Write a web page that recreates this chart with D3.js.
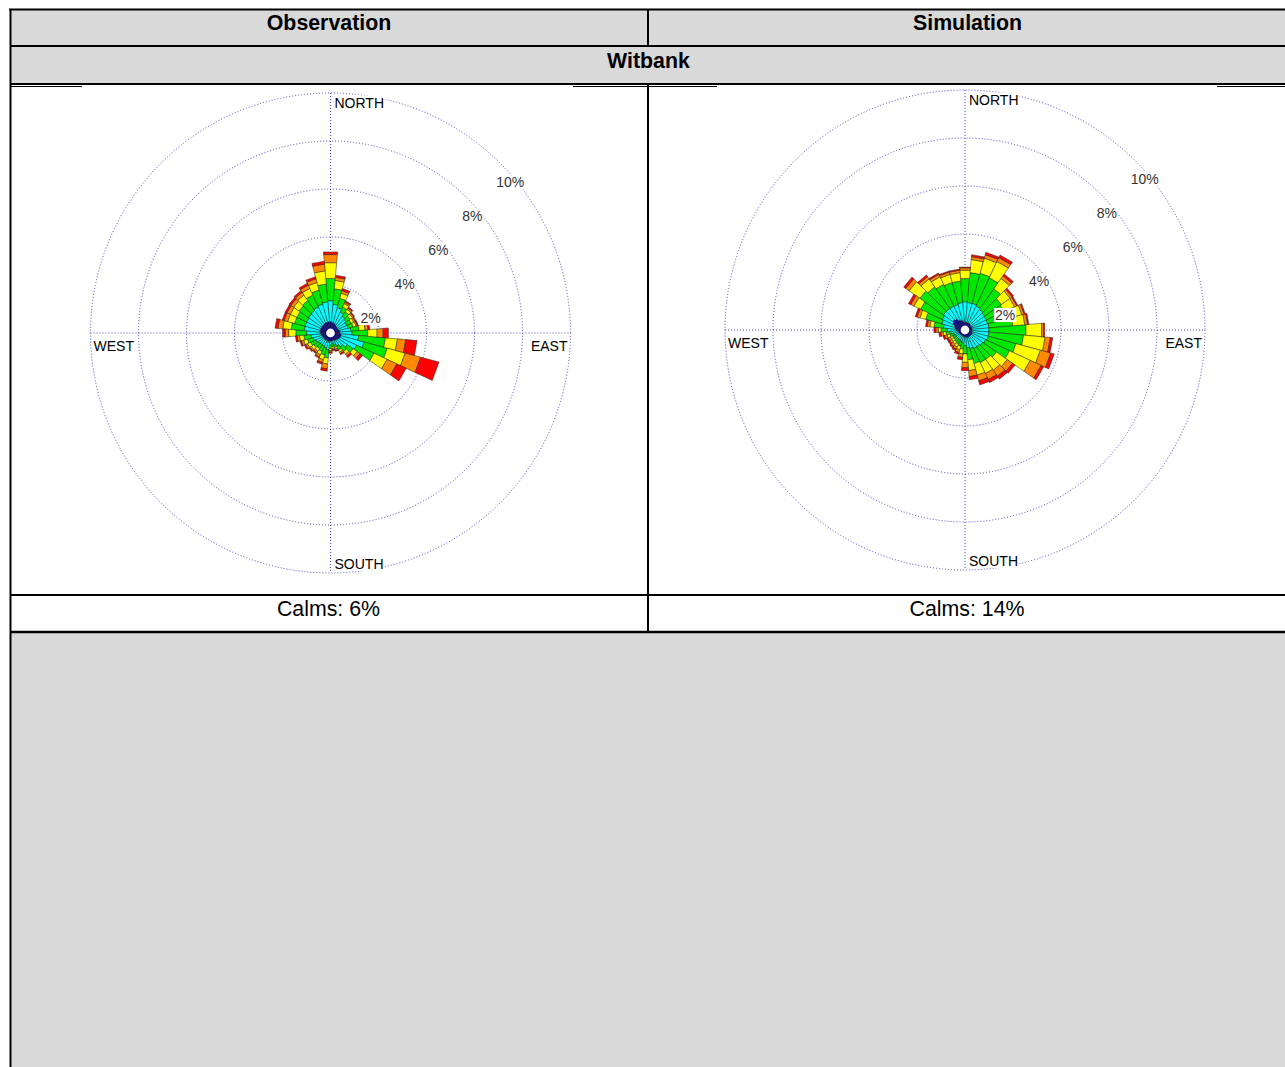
<!DOCTYPE html>
<html>
<head>
<meta charset="utf-8">
<script src="https://cdn.jsdelivr.net/npm/d3@7"></script>
<style>
  html, body { margin: 0; padding: 0; background: #fff; }
  svg { display: block; }
  text { font-family: "Liberation Sans", Arial, Helvetica, sans-serif; }
</style>
</head>
<body>
<svg id="chart" width="1285" height="1067"></svg>
<script>
// ---- wind direction sectors (degrees clockwise from north) ----
const directions = [0, 10, 20, 30, 40, 50, 60, 70, 80, 90, 100, 110, 120, 130, 140, 150, 160, 170,
                    180, 190, 200, 210, 220, 230, 240, 250, 260, 270, 280, 290, 300, 310, 320, 330, 340, 350];

// ---- frequency (%) per speed class, Observation ----
const obsClass1 = [.48,.45,.43,.40,.37,.35,.35,.37,.40,.40,.45,.45,.43,.40,.37,.35,.33,.33,
                   .35,.37,.37,.35,.35,.35,.37,.37,.40,.43,.45,.45,.45,.45,.45,.47,.47,.48];
const obsClass2 = [.87,.75,.67,.55,.48,.45,.40,.38,.45,.50,.73,1.00,.77,.45,.33,.25,.17,.12,
                   .15,.33,.28,.25,.25,.27,.31,.38,.42,.57,.65,.65,.65,.67,.70,.73,.78,.82];
const obsClass3 = [.93,.65,.40,.25,.23,.20,.20,.23,.35,.65,1.12,1.00,.80,.30,.25,.18,.12,.12,
                   .15,.35,.30,.25,.20,.23,.24,.25,.30,.45,.55,.45,.45,.48,.50,.55,.60,.75];
const obsClass4 = [.66,.35,.22,.15,.12,.12,.12,.12,.25,.40,.50,.77,.60,.20,.13,.10,.08,.08,
                   .09,.25,.20,.15,.12,.13,.14,.16,.18,.30,.35,.30,.30,.28,.28,.30,.33,.55];
const obsClass5 = [.34,.13,.11,.07,.07,.06,.07,.06,.12,.25,.35,.67,.45,.15,.09,.07,.06,.05,
                   .06,.20,.12,.10,.08,.07,.08,.10,.10,.15,.20,.15,.15,.14,.14,.15,.16,.28];
const obsClass6 = [.11,.09,.09,.06,.05,.04,.04,.04,.08,.22,.47,.79,.43,.13,.08,.05,.04,.05,
                   .05,.10,.08,.05,.05,.05,.06,.06,.07,.10,.12,.08,.08,.08,.08,.09,.09,.12];

// ---- frequency (%) per speed class, Simulation ----
const simClass1 = [.32,.32,.32,.32,.32,.30,.30,.30,.30,.30,.30,.32,.32,.32,.32,.32,.32,.32,
                   .30,.27,.27,.27,.27,.27,.27,.29,.32,.37,.42,.47,.57,.62,.57,.47,.42,.37];
const simClass2 = [.86,.83,.83,.78,.73,.70,.68,.68,.70,.70,.70,.68,.63,.58,.53,.53,.48,.43,
                   .35,.28,.23,.21,.18,.18,.18,.21,.28,.38,.48,.53,.48,.48,.53,.63,.68,.78];
const simClass3 = [.97,1.25,1.30,1.30,1.05,.85,.82,.92,1.00,1.55,1.45,1.20,1.10,.70,.65,.65,.65,.50,
                   .35,.25,.20,.17,.15,.13,.13,.15,.20,.25,.40,.70,1.00,1.20,1.10,1.00,.95,.90];
const simClass4 = [.35,.55,.65,.75,.52,.45,.48,.55,.50,.65,.90,1.05,.95,.55,.55,.50,.50,.45,
                   .35,.20,.15,.13,.12,.10,.10,.13,.12,.12,.17,.25,.30,.55,.40,.35,.35,.35];
const simClass5 = [.10,.12,.15,.18,.14,.10,.10,.10,.12,.08,.22,.45,.50,.27,.30,.28,.25,.25,
                   .23,.15,.12,.10,.11,.10,.10,.10,.10,.10,.11,.12,.15,.17,.12,.11,.10,.10];
const simClass6 = [.03,.08,.10,.12,.09,.07,.05,.05,.05,.05,.10,.15,.12,.13,.15,.14,.17,.13,
                   .12,.10,.08,.07,.07,.07,.07,.07,.08,.08,.07,.08,.10,.10,.08,.06,.05,.05];

// ---- speed class colours (slowest to fastest) ----
const classKeys = ["c1", "c2", "c3", "c4", "c5", "c6"];
const classColors = ["#0000a8", "#00ffff", "#00e800", "#ffff00", "#ff8a00", "#ff0000"];

// ---- radial grid ----
const ringValues = [2, 4, 6, 8, 10];
const ringLabels = ["2%", "4%", "6%", "8%", "10%"];
const compassLabels = ["NORTH", "EAST", "SOUTH", "WEST"];

// ---- table text ----
const columnTitles = ["Observation", "Simulation"];
const stationName = "Witbank";
const calmLabels = ["Calms: 6%", "Calms: 14%"];

const svg = d3.select("#chart");
const W = 1285, H = 1067;

// ---------------- table frame ----------------
const tbl = svg.append("g");
const xL = 10, xMid = 648, xR = 1290;
const yTop = 9, yHead = 46, yStation = 84, yCalmTop = 595, yCalmBot = 632;
const gray = "#d9d9d9";

tbl.append("rect").attr("x", xL).attr("y", yTop).attr("width", xR - xL).attr("height", yStation - yTop).attr("fill", gray);
tbl.append("rect").attr("x", xL).attr("y", yCalmBot).attr("width", xR - xL).attr("height", H - yCalmBot).attr("fill", gray);

const line = (x1, y1, x2, y2, w) => tbl.append("line")
  .attr("x1", x1).attr("y1", y1).attr("x2", x2).attr("y2", y2)
  .attr("stroke", "#000").attr("stroke-width", w || 2);

line(xL - 1, yTop + 0.5, xR, yTop + 0.5);
line(xL, yHead, xR, yHead);
line(xL, yStation, xR, yStation);
line(xL, yCalmTop, xR, yCalmTop);
line(xL, yCalmBot, xR, yCalmBot, 2.5);
line(xL + 0.5, yTop, xL + 0.5, H);
line(xMid, yTop, xMid, yHead);
line(xMid, yStation, xMid, yCalmBot);
// short rule segments at the top edge of the rose row, between the plot images
[[xL, 82], [573, 717], [1217, xR]].forEach(s => line(s[0], yStation + 2.5, s[1], yStation + 2.5, 1.2));

const font = "21.33px";
tbl.selectAll("text.coltitle").data(columnTitles).enter().append("text")
  .attr("x", (d, i) => i === 0 ? 329 : 967.5).attr("y", 30)
  .attr("text-anchor", "middle").attr("font-size", font).attr("font-weight", "bold").attr("fill", "#000")
  .text(d => d);
tbl.append("text").attr("x", 648.5).attr("y", 68)
  .attr("text-anchor", "middle").attr("font-size", font).attr("font-weight", "bold").attr("fill", "#000")
  .text(stationName);
tbl.selectAll("text.calm").data(calmLabels).enter().append("text")
  .attr("x", (d, i) => i === 0 ? 328.5 : 967).attr("y", 616)
  .attr("text-anchor", "middle").attr("font-size", font).attr("fill", "#000")
  .text(d => d);

// ---------------- wind roses ----------------
const rScale = d3.scaleLinear().domain([0, 10]).range([0, 240]);
const aScale = d3.scaleLinear().domain([0, 360]).range([0, 2 * Math.PI]);
const sectorHalf = 5;
const barPath = d3.lineRadial().angle(d => d[0]).radius(d => d[1]).curve(d3.curveLinearClosed);
const stack = d3.stack().keys(classKeys);

function rose(cx, cy, classes) {
  const rows = directions.map((dir, i) => {
    const row = { dir };
    classKeys.forEach((k, j) => { row[k] = classes[j][i]; });
    return row;
  });
  const layers = stack(rows);
  const g = svg.append("g").attr("transform", `translate(${cx},${cy})`);
  const R = rScale(10);
  const gridColor = "#4848c4";

  // dotted rings and cross lines
  g.selectAll("circle.ring").data(ringValues).enter().append("circle")
    .attr("r", d => rScale(d)).attr("fill", "none")
    .attr("stroke", gridColor).attr("stroke-width", 1).attr("stroke-dasharray", "1,2");
  g.append("line").attr("x1", 0).attr("y1", -R).attr("x2", 0).attr("y2", R)
    .attr("stroke", gridColor).attr("stroke-width", 1).attr("stroke-dasharray", "1,2");
  g.append("line").attr("x1", -R).attr("y1", 0).attr("x2", R).attr("y2", 0)
    .attr("stroke", gridColor).attr("stroke-width", 1).attr("stroke-dasharray", "1,2");

  // stacked sector bars
  layers.forEach((layer, li) => {
    g.append("g").selectAll("path").data(layer).enter().append("path")
      .attr("d", d => {
        const a0 = aScale(d.data.dir - sectorHalf), a1 = aScale(d.data.dir + sectorHalf);
        const r0 = rScale(d[0]), r1 = rScale(d[1]);
        return barPath([[a0, r0], [a1, r0], [a1, r1], [a0, r1]]);
      })
      .attr("fill", classColors[li])
      .attr("stroke", "#1e1e1e").attr("stroke-width", 0.5).attr("stroke-linejoin", "round");
  });

  // calm circle
  g.append("circle").attr("r", 5).attr("fill", "#fff").attr("stroke", "#000080").attr("stroke-width", 1.2);

  // labels with white boxes
  function boxed(sel) {
    sel.each(function () {
      const b = this.getBBox();
      d3.select(this.parentNode).insert("rect", () => this)
        .attr("x", b.x - 1).attr("y", b.y + 1).attr("width", b.width + 2).attr("height", b.height - 2)
        .attr("fill", "#fff");
    });
  }

  const pct = g.append("g");
  ringValues.forEach((v, i) => {
    const rr = rScale(v) * Math.SQRT1_2;
    const grp = pct.append("g");
    const t = grp.append("text").attr("x", rr - 4).attr("y", -rr + 24)
      .attr("font-size", "14px").attr("fill", "#333").text(ringLabels[i]);
    boxed(t);
  });

  const comp = g.append("g");
  const cPos = {
    NORTH: { x: 4, y: -R + 14.5, anchor: "start" },
    EAST:  { x: R - 3, y: 17.5, anchor: "end" },
    SOUTH: { x: 4, y: R - 4, anchor: "start" },
    WEST:  { x: -R + 3, y: 17.5, anchor: "start" }
  };
  compassLabels.forEach(lbl => {
    const p = cPos[lbl];
    const grp = comp.append("g");
    const t = grp.append("text").attr("x", p.x).attr("y", p.y).attr("text-anchor", p.anchor)
      .attr("font-size", "14px").attr("fill", "#000").text(lbl);
    boxed(t);
  });
}

rose(330.5, 333, [obsClass1, obsClass2, obsClass3, obsClass4, obsClass5, obsClass6]);
rose(965, 330, [simClass1, simClass2, simClass3, simClass4, simClass5, simClass6]);
</script>
</body>
</html>
